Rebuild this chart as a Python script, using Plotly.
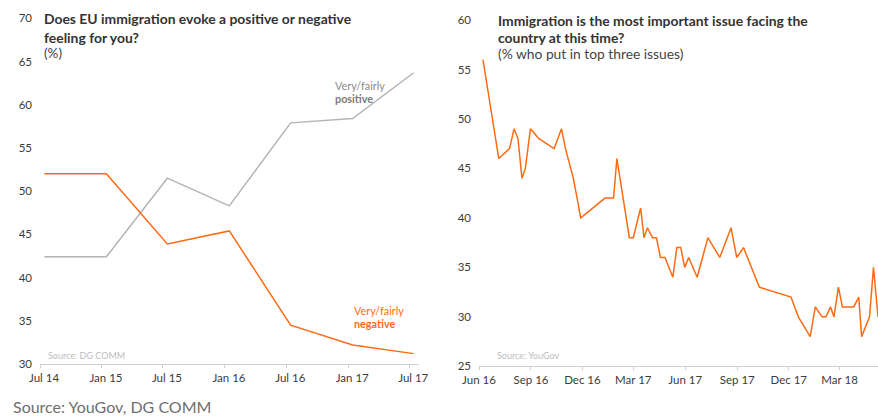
import plotly.graph_objects as go

W, H = 878, 417

# Left chart: EU immigration feeling (%)
left_dates = ["2014-07-14", "2015-01-14", "2015-07-14", "2016-01-14", "2016-07-14", "2017-01-14", "2017-07-14"]
positive = [42.4, 42.4, 51.5, 48.3, 57.9, 58.4, 63.7]
negative = [52.0, 52.0, 43.9, 45.4, 34.5, 32.2, 31.2]
left_tickvals = ["2014-07-01", "2015-01-01", "2015-07-01", "2016-01-01", "2016-07-01", "2017-01-01", "2017-07-01"]
left_ticktext = ["Jul 14", "Jan 15", "Jul 15", "Jan 16", "Jul 16", "Jan 17", "Jul 17"]

# Right chart: immigration most important issue (% top three)
right_dates = [
    "2016-06-08", "2016-07-06", "2016-07-25", "2016-08-02", "2016-08-09", "2016-08-16", "2016-08-22",
    "2016-08-31", "2016-09-15", "2016-10-12", "2016-10-25", "2016-11-01", "2016-11-15", "2016-11-28",
    "2017-01-10", "2017-01-25", "2017-01-31", "2017-02-22", "2017-03-01", "2017-03-14", "2017-03-20",
    "2017-03-26", "2017-04-04", "2017-04-11", "2017-04-18", "2017-04-26", "2017-05-10", "2017-05-17",
    "2017-05-24", "2017-05-31", "2017-06-07", "2017-06-22", "2017-07-11", "2017-08-01", "2017-08-21",
    "2017-08-31", "2017-09-12", "2017-10-10", "2017-12-05", "2017-12-18", "2018-01-08", "2018-01-17",
    "2018-01-29", "2018-02-05", "2018-02-13", "2018-02-19", "2018-02-27", "2018-03-06", "2018-03-26",
    "2018-04-04", "2018-04-09", "2018-04-23", "2018-04-30", "2018-05-08",
]
issue_share = [
    56, 46, 47, 49, 48, 44, 45,
    49, 48, 47, 49, 47, 44, 40,
    42, 42, 46, 38, 38, 41, 38,
    39, 38, 38, 36, 36, 34, 37,
    37, 35, 36, 34, 38, 36, 39,
    36, 37, 33, 32, 30, 28, 31,
    30, 30, 31, 30, 33, 31, 31,
    32, 28, 30, 35, 30,
]
right_tickvals = ["2016-06-01", "2016-09-01", "2016-12-01", "2017-03-01", "2017-06-01", "2017-09-01", "2017-12-01", "2018-03-01"]
right_ticktext = ["Jun 16", "Sep 16", "Dec 16", "Mar 17", "Jun 17", "Sep 17", "Dec 17", "Mar 18"]

ORANGE = "#FF6A13"
GREY = "#b4b4b4"
FONT = "Lato"

def px_x(x):
    return x / W

def px_y(y):
    return 1 - y / H

fig = go.Figure()
fig.add_trace(go.Scatter(x=left_dates, y=positive, mode="lines", line=dict(color=GREY, width=1.5),
                         xaxis="x", yaxis="y", showlegend=False, hoverinfo="skip"))
fig.add_trace(go.Scatter(x=left_dates, y=negative, mode="lines", line=dict(color=ORANGE, width=1.5),
                         xaxis="x", yaxis="y", showlegend=False, hoverinfo="skip"))
fig.add_trace(go.Scatter(x=right_dates, y=issue_share, mode="lines", line=dict(color=ORANGE, width=1.5),
                         xaxis="x2", yaxis="y2", showlegend=False, hoverinfo="skip"))

tickfont = dict(family=FONT, size=11.5, color="#3c3c3c")
xcommon = dict(type="date", showgrid=False, zeroline=False, showline=True, linecolor="#cfcfcf", linewidth=1,
               ticks="outside", ticklen=3, tickcolor="#cfcfcf", tickfont=tickfont, automargin=False)
ycommon = dict(showgrid=False, zeroline=False, showline=False, ticks="", tickfont=tickfont,
               automargin=False, ticklabelstandoff=7)

fig.update_layout(
    width=W, height=H,
    margin=dict(l=0, r=0, t=0, b=0),
    paper_bgcolor="white", plot_bgcolor="white",
    font=dict(family=FONT),
    xaxis=dict(**xcommon, domain=[px_x(40), px_x(419)], range=["2014-07-01", "2017-07-30"],
               tickvals=left_tickvals, ticktext=left_ticktext, ticklabelshift=4, anchor="y"),
    yaxis=dict(**ycommon, domain=[px_y(364), px_y(18.3)], range=[30, 70],
               tickvals=[30, 35, 40, 45, 50, 55, 60, 65, 70], anchor="x"),
    xaxis2=dict(**xcommon, domain=[px_x(479), 1], range=["2016-06-01", "2018-05-08"],
                tickvals=right_tickvals, ticktext=right_ticktext, anchor="y2"),
    yaxis2=dict(**ycommon, domain=[px_y(366.3), px_y(20)], range=[25, 60],
                tickvals=[25, 30, 35, 40, 45, 50, 55, 60], anchor="x2"),
)

def note(text, x, y, size, color, bold=False):
    fig.add_annotation(text=f"<b>{text}</b>" if bold else text, x=px_x(x), y=px_y(y),
                       xref="paper", yref="paper", xanchor="left", yanchor="middle",
                       showarrow=False, font=dict(family=FONT, size=size, color=color))

# Titles
note("Does EU immigration evoke a positive or negative", 42, 18.5, 13.9, "#333333", bold=True)
note("feeling for you?", 42, 37, 13.9, "#333333", bold=True)
note("(%)", 42, 53.5, 13.5, "#444444")
note("Immigration is the most important issue facing the", 496, 20, 13.9, "#333333", bold=True)
note("country at this time?", 496, 37, 13.9, "#333333", bold=True)
note("(% who put in top three issues)", 496, 54, 13.8, "#444444")

# Series labels
note("Very/fairly", 333, 85, 10.8, "#8a8a8a")
note("positive", 333, 98.5, 10.8, "#7a7a7a", bold=True)
note("Very/fairly", 352, 310, 10.8, ORANGE)
note("negative", 352, 323, 10.8, ORANGE, bold=True)

# In-chart sources
note("Source: DG COMM", 46, 355.5, 9, "#bdbdbd")
note("Source: YouGov", 495, 355.5, 9, "#bdbdbd")

# Bottom source
note("Source: YouGov, DG COMM", 11, 406.5, 16, "#6e6e6e")

fig.write_html("out.html", config={"displayModeBar": False},
               post_script="document.body.style.margin='0';document.body.style.overflow='hidden';")
